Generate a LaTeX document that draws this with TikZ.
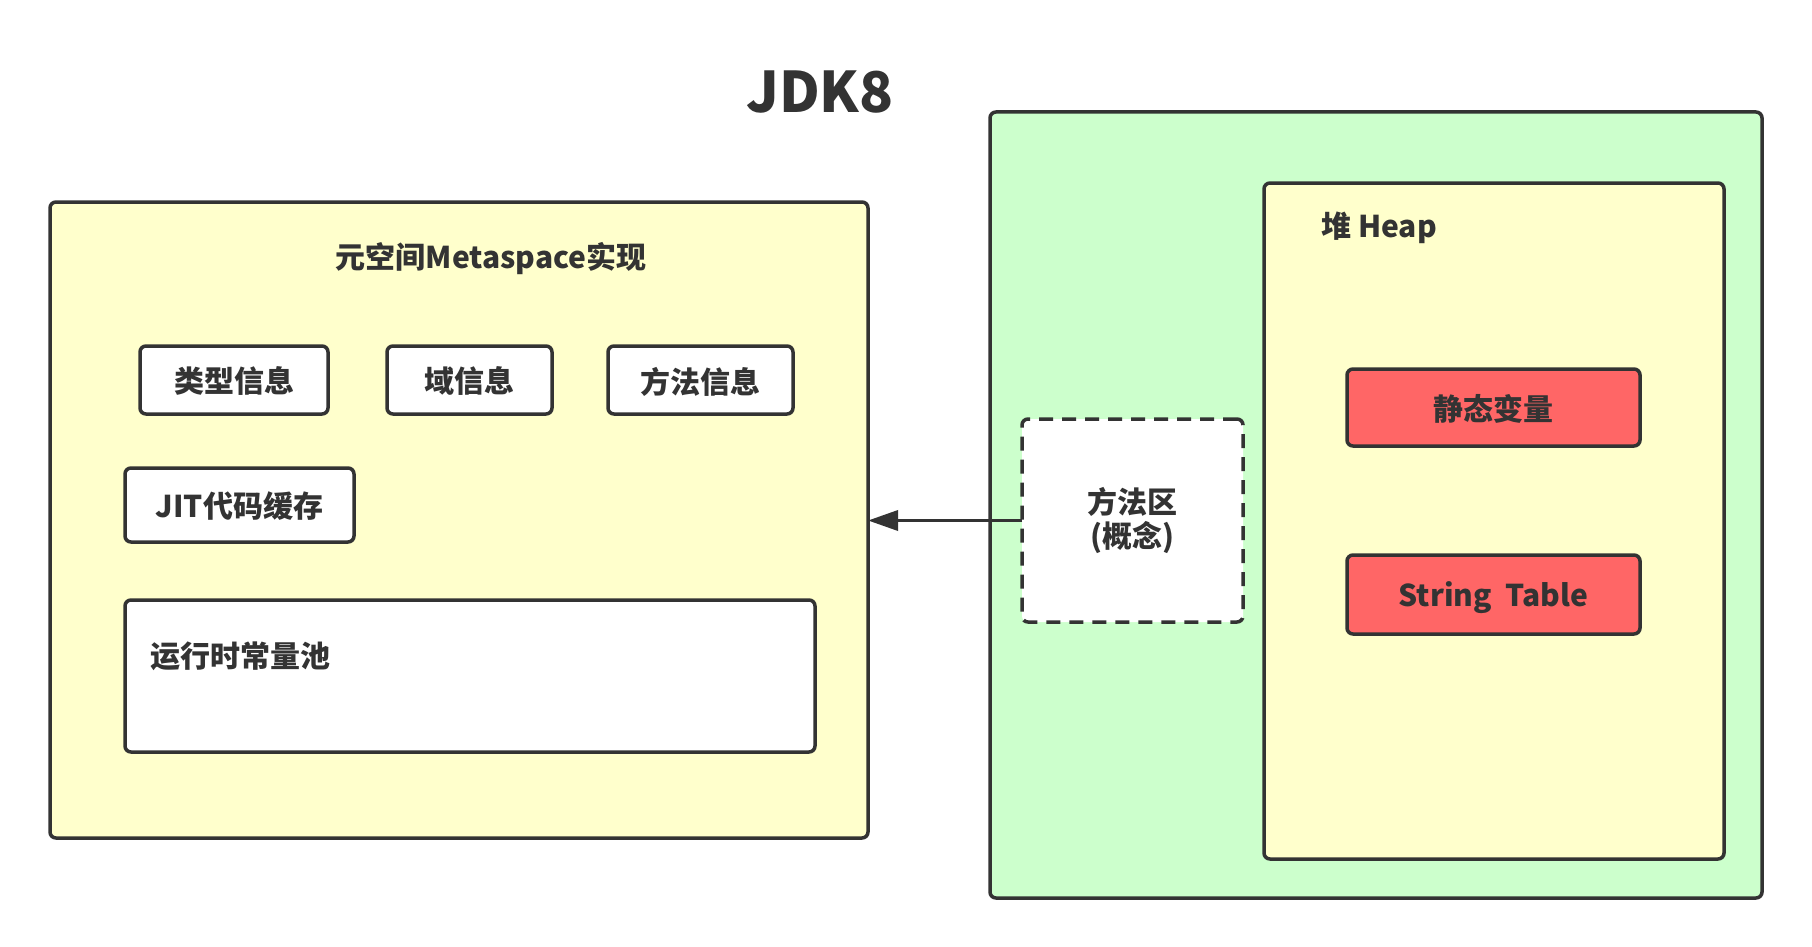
\documentclass[tikz,border=0pt]{standalone}
\usepackage{fontspec}
\setmainfont{Noto Sans CJK SC}
\usetikzlibrary{arrows.meta}
\definecolor{ink}{HTML}{333333}
\definecolor{yel}{HTML}{FFFFCC}
\definecolor{grn}{HTML}{CCFFCC}
\definecolor{redb}{HTML}{FF6666}
\tikzset{
  box/.style={draw=ink, line width=3.5pt, rounded corners=6pt, inner sep=0pt, outer sep=0pt, font=\fontsize{30}{34}\selectfont\bfseries, text=ink, align=center},
  one/.style={text depth=0pt},
  lbl/.style={inner sep=0pt, font=\fontsize{30}{34}\selectfont\bfseries, text=ink, align=center},
}
\begin{document}
\begin{tikzpicture}[x=1pt,y=-1pt]
\useasboundingbox[fill=white] (0,0) rectangle (1812,947);
\node[lbl, font=\fontsize{56}{60}\selectfont\bfseries] (title) at (820,92) {JDK8};
% left
\node[box, fill=yel, minimum width=818pt, minimum height=636pt] (meta) at (459,520) {};
\node[lbl] (metat) at (491,259) {元空间Metaspace实现};
\node[box, one, fill=white, minimum width=188pt, minimum height=68pt] (type) at (234,380) {类型信息};
\node[box, one, fill=white, minimum width=165pt, minimum height=68pt] (field) at (469.5,380) {域信息};
\node[box, one, fill=white, minimum width=185pt, minimum height=68pt] (method) at (700.5,380) {方法信息};
\node[box, one, fill=white, minimum width=229pt, minimum height=74pt] (jit) at (239.5,505) {JIT代码缓存};
\node[box, fill=white, minimum width=690pt, minimum height=152pt] (pool) at (470,676) {};
\node[lbl, anchor=west] (poolt) at (150,656) {运行时常量池};
% right
\node[box, fill=grn, minimum width=772pt, minimum height=786pt] (green) at (1376,505) {};
\node[box, fill=yel, minimum width=460pt, minimum height=676pt] (heap) at (1494,521) {};
\node[lbl, anchor=west] (heapt) at (1321,228) {堆 Heap};
\node[box, one, fill=redb, minimum width=293pt, minimum height=77pt] (static) at (1493.5,407.5) {静态变量};
\node[box, one, fill=redb, minimum width=293pt, minimum height=79pt] (strtab) at (1493.5,594.5) {String~ Table};
\node[box, fill=white, dashed, dash pattern=on 14pt off 9pt, minimum width=221pt, minimum height=203pt] (ma) at (1132.5,520.5) {方法区\\(概念)};
\draw[ink, line width=3.5pt, -{Triangle[length=30pt,width=20pt]}] (ma.west) -- (ma.west -| meta.east);
\end{tikzpicture}
\end{document}
